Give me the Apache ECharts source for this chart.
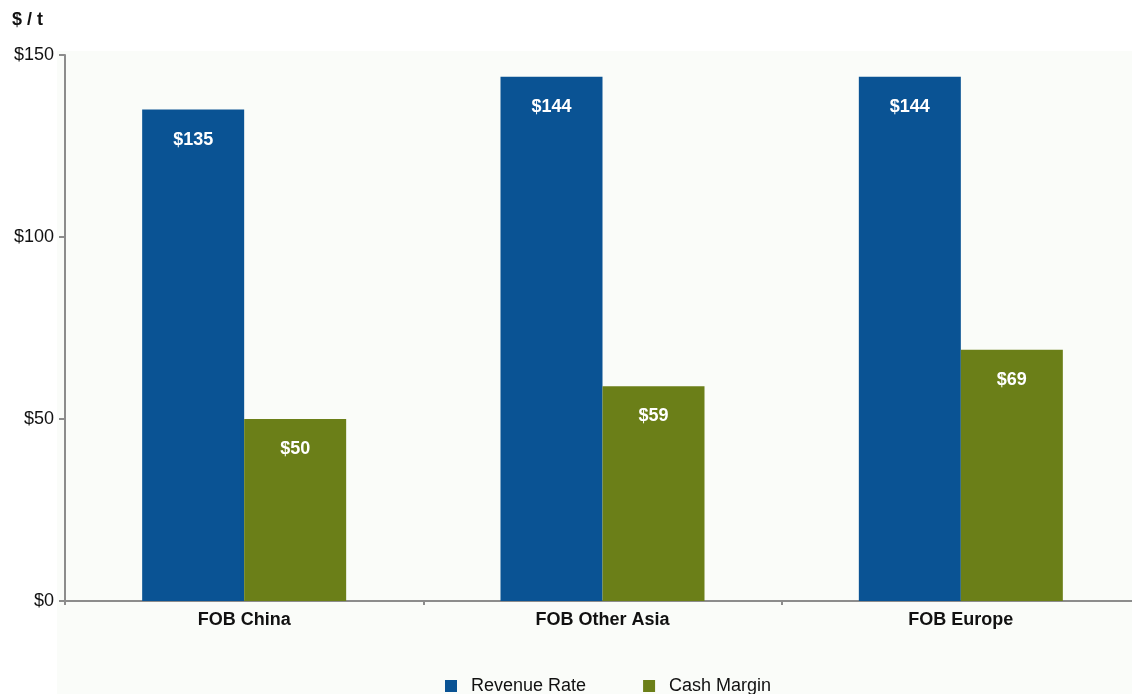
<!DOCTYPE html>
<html>
<head>
<meta charset="utf-8">
<script src="https://cdn.jsdelivr.net/npm/echarts@6/dist/echarts.min.js"></script>
<style>
html,body{margin:0;padding:0;background:#fff;overflow:hidden;}
#chart{width:1145px;height:694px;}
</style>
</head>
<body>
<div id="chart"></div>
<script>
const categories = ['FOB China', 'FOB Other Asia', 'FOB Europe'];
const revenueRate = [135, 144, 144];
const cashMargin = [50, 59, 69];
const yTicks = [0, 50, 100, 150];

const chart = echarts.init(document.getElementById('chart'));
const font = 'Liberation Sans, Arial, sans-serif';

const valueLabel = {
  show: true,
  position: 'insideTop',
  distance: 21,
  color: '#ffffff',
  fontFamily: font,
  fontWeight: 'bold',
  fontSize: 18,
  formatter: p => '$' + p.value
};

chart.setOption({
  backgroundColor: '#ffffff',
  animation: false,
  graphic: [
    { type: 'rect', z: -10, shape: { x: 57, y: 51, width: 1090, height: 643 }, style: { fill: '#fafcf9' } },
    { type: 'text', left: 12, top: 11, style: { text: '$ / t', font: 'bold 18px ' + font, fill: '#111' } }
  ],
  grid: { left: 65, top: 55, width: 1075, height: 546, containLabel: false },
  legend: {
    top: 672,
    left: 440,
    itemWidth: 12,
    itemHeight: 12,
    itemGap: 57,
    icon: 'rect',
    textStyle: { fontFamily: font, fontSize: 18, color: '#111', padding: [0, 0, 0, 9] },
    data: ['Revenue Rate', 'Cash Margin']
  },
  xAxis: {
    type: 'category',
    data: categories,
    axisLine: { lineStyle: { color: '#8c8c8c', width: 2 } },
    axisTick: { show: true, alignWithLabel: false, length: 4, lineStyle: { color: '#8c8c8c', width: 2 } },
    axisLabel: { fontFamily: font, fontWeight: 'bold', fontSize: 18, color: '#111', margin: 10 }
  },
  yAxis: {
    type: 'value',
    min: 0,
    max: 150,
    interval: 50,
    splitLine: { show: false },
    axisLine: { show: true, lineStyle: { color: '#8c8c8c', width: 2 } },
    axisTick: { show: true, length: 6, lineStyle: { color: '#8c8c8c', width: 2 } },
    axisLabel: {
      fontFamily: font, fontSize: 18, color: '#111', margin: 11,
      formatter: v => yTicks.includes(v) ? '$' + v : ''
    }
  },
  series: [
    {
      name: 'Revenue Rate',
      type: 'bar',
      data: revenueRate,
      barWidth: 102,
      barGap: '0%',
      itemStyle: { color: '#0a5394' },
      label: valueLabel
    },
    {
      name: 'Cash Margin',
      type: 'bar',
      data: cashMargin,
      barWidth: 102,
      barGap: '0%',
      itemStyle: { color: '#6b7f18' },
      label: valueLabel
    }
  ]
});
</script>
</body>
</html>
